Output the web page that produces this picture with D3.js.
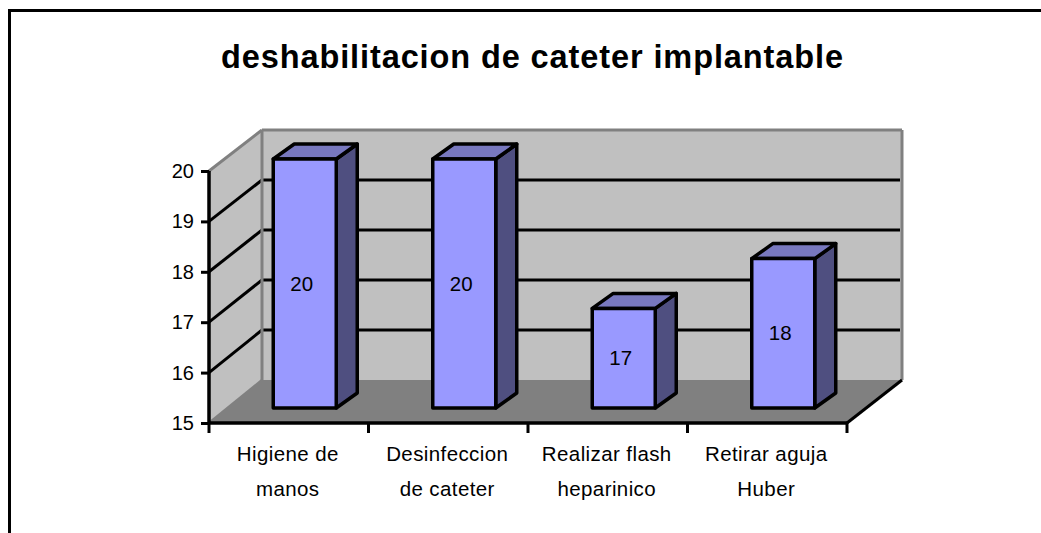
<!DOCTYPE html>
<html><head><meta charset="utf-8">
<script src="https://cdn.jsdelivr.net/npm/d3@7/dist/d3.min.js"></script>
<style>html,body{margin:0;padding:0;background:#fff}svg{display:block}text{font-family:"Liberation Sans",Arial,sans-serif;fill:#000}</style>
</head><body><svg id="c" width="1041" height="533"></svg>
<script>
const titleText = "deshabilitacion de cateter implantable";
const categories = ["Higiene de manos","Desinfeccion de cateter","Realizar flash heparinico","Retirar aguja Huber"];
const categoryLines = [["Higiene de","manos"],["Desinfeccion","de cateter"],["Realizar flash","heparinico"],["Retirar aguja","Huber"]];
const values = [20,20,17,18];
const yTicks = [15,16,17,18,19,20];

const svg = d3.select("#c");
const blk="#000", gray="#808080", wall="#c0c0c0", floor="#808080", front="#9999ff", side="#4f4f80", top_="#7878bf";
const dom=[15,20];
const yF=d3.scaleLinear().domain(dom).range([423,171]);
const yB=d3.scaleLinear().domain(dom).range([380,130]);
const yBar=d3.scaleLinear().domain(dom).range([408,159]);
const x=d3.scaleBand().domain(categories).range([209,847]);
const dx=53, barW=63, barOff=16, depX=21, depY=15;
const poly=(pts,fill,stroke,sw)=>svg.append("polygon").attr("points",pts.map(p=>p.join(",")).join(" ")).attr("fill",fill).attr("stroke",stroke||"none").attr("stroke-width",sw||0).attr("stroke-linejoin","round");
const line=(a,b,c,w)=>svg.append("line").attr("x1",a[0]).attr("y1",a[1]).attr("x2",b[0]).attr("y2",b[1]).attr("stroke",c).attr("stroke-width",w);

// frame
svg.append("path").attr("d","M9.5,533V10.5H1041").attr("fill","none").attr("stroke",blk).attr("stroke-width",3);

// title
svg.append("text").attr("x",532).attr("y",68).attr("text-anchor","middle").attr("font-size",32.5).attr("font-weight","bold").attr("textLength",622).attr("lengthAdjust","spacing").text(titleText);

// walls + floor
const xL=209,xR=847,xBL=xL+dx,xBR=xR+dx+1;
poly([[xBL,yB(20)],[xBR,yB(20)],[xBR,yB(15)],[xBL,yB(15)]],wall);
poly([[xL,yF(20)],[xBL,yB(20)],[xBL,yB(15)],[xL,yF(15)]],wall);
poly([[xBL,yB(15)],[xBR,yB(15)],[xR,yF(15)],[xL,yF(15)]],floor);

// gridlines
yTicks.filter(v=>v>15&&v<20).forEach(v=>{
  line([xBL,yB(v)],[xBR-1,yB(v)],blk,3);
  line([xL,yF(v)],[xBL,yB(v)],blk,3);
});
// wall edges
line([xL,yF(20)],[xBL,yB(20)],gray,3);
line([xBL,yB(20)],[xBR+1,yB(20)],gray,3);
line([xBL,yB(20)],[xBL,yB(15)],gray,3);
line([xBR+1,yB(20)],[xBR+1,yB(15)],gray,3);
line([xL,yF(15)],[xBL,yB(15)],gray,2.5);
line([xR,yF(15)],[xBR+1,yB(15)],blk,3);

// bars
categories.forEach((c,i)=>{
  const x0=x(c)+(x.bandwidth()-barW)/2+barOff, x1=x0+barW, t=yBar(values[i]), b=yBar(15);
  poly([[x1,t],[x1+depX,t-depY],[x1+depX,b-depY],[x1,b]],side,blk,3.5);
  poly([[x0,t],[x0+depX,t-depY],[x1+depX,t-depY],[x1,t]],top_,blk,3.5);
  poly([[x0,t],[x1,t],[x1,b],[x0,b]],front,blk,3.5);
  svg.append("text").attr("x",(x0+x1)/2-3).attr("y",(t+b)/2+7).attr("text-anchor","middle").attr("font-size",20.5).text(values[i]);
});

// axes
const yAxis=d3.axisLeft(yF).tickValues(yTicks).tickSize(8).tickPadding(7).tickFormat(d3.format("d"));
const gy=svg.append("g").attr("transform",`translate(${xL},0)`).call(yAxis);
gy.select(".domain").attr("stroke",blk).attr("stroke-width",3.5).attr("d",`M0,${yF(20)}V${yF(15)}`);
gy.selectAll(".tick line").attr("stroke",blk).attr("stroke-width",3);
gy.selectAll("text").attr("font-size",20).attr("font-family",null);
gy.attr("font-family",null);

const xAxis=d3.axisBottom(x).tickValues(categories).tickSize(0).tickFormat("");
const gx=svg.append("g").attr("transform",`translate(0,${yF(15)})`).call(xAxis);
gx.select(".domain").attr("stroke",blk).attr("stroke-width",3.5).attr("d",`M${xL-1},0H${xR+1}`);
gx.selectAll(".tick text").remove();
gx.attr("font-family",null);
[...categories.map(c=>x(c)),xR].forEach(px=>line([px,yF(15)],[px,yF(15)+10],blk,3));

categories.forEach((c,i)=>{
  categoryLines[i].forEach((s,j)=>{
    svg.append("text").attr("x",x(c)+x.bandwidth()/2-1).attr("y",461+j*34.5).attr("text-anchor","middle").attr("font-size",20.5).attr("letter-spacing",0.4).text(s);
  });
});
</script></body></html>
